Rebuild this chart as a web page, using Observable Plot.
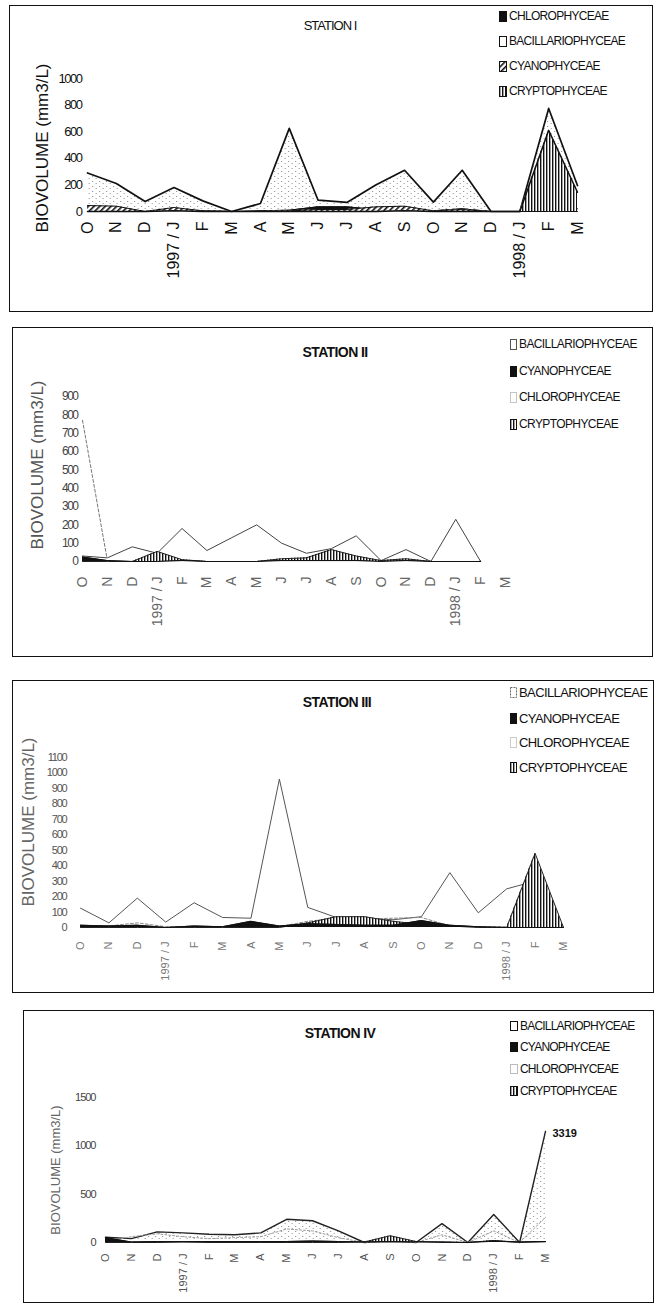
<!DOCTYPE html>
<html><head><meta charset="utf-8">
<script src="https://cdn.jsdelivr.net/npm/d3@7"></script>
<script src="https://cdn.jsdelivr.net/npm/@observablehq/plot@0.6"></script>
<style>
body{margin:0;background:#fff;font-family:"Liberation Sans",Arial,sans-serif;}
#page{position:relative;width:656px;height:1306px;overflow:hidden;background:#fff;}
.box{position:absolute;border:1.5px solid #111;box-sizing:border-box;}
.t{position:absolute;white-space:nowrap;color:#111;line-height:1;}
.rot{position:absolute;white-space:nowrap;line-height:1;transform:translate(-50%,-50%) rotate(-90deg);}
.chart{position:absolute;left:0;}
.lg{position:absolute;white-space:nowrap;line-height:1;display:flex;align-items:center;}
.lg svg{margin-right:2px;}
</style></head><body><div id="page">
<svg width="0" height="0" style="position:absolute">
<defs>
<pattern id="vh" width="3" height="4" patternUnits="userSpaceOnUse"><rect width="3" height="4" fill="#fff"/><rect width="1.4" height="4" fill="#111"/></pattern>
<pattern id="dh" width="4" height="4" patternUnits="userSpaceOnUse" patternTransform="rotate(45)"><rect width="4" height="4" fill="#fff"/><rect width="1.6" height="4" fill="#111"/></pattern>
<pattern id="dots" width="7" height="5" patternUnits="userSpaceOnUse"><rect width="7" height="5" fill="#fff"/><rect x="1" y="1" width="1.2" height="1" fill="#9a9a9a"/><rect x="4.5" y="3" width="1.5" height="1" fill="#b5b5b5"/></pattern>
</defs></svg>
</div>
<script>
// ---------- data ----------
const months = ["O","N","D","1997 / J","F","M","A","M","J","J","A","S","O","N","D","1998 / J","F","M"];
const titles = ["STATION I","STATION II","STATION III","STATION IV"];
const yLabel = "BIOVOLUME (mm3/L)";
const legend1 = ["CHLOROPHYCEAE","BACILLARIOPHYCEAE","CYANOPHYCEAE","CRYPTOPHYCEAE"];
const legend234 = ["BACILLARIOPHYCEAE","CYANOPHYCEAE","CHLOROPHYCEAE","CRYPTOPHYCEAE"];

// Station I
const st1Bacillario = [290,210,75,180,80,0,60,625,85,68,200,310,70,310,0,0,775,195];
const st1Chloro     = [10,15,0,10,5,0,5,10,35,35,15,15,5,20,0,0,30,20];
const st1Cyano      = [45,40,0,30,5,0,0,5,15,15,35,40,5,15,0,0,0,0];
const st1Crypto     = [0,0,0,5,0,0,0,0,0,0,0,5,0,0,0,0,610,145];
const yTicks1 = [0,200,400,600,800,1000];

// Station II
const st2Bacillario = [30,20,80,45,180,60,130,200,100,45,70,140,5,65,0,230,0,null];
const st2Chloro     = [770,5,5,10,25,5,5,5,10,10,15,10,5,10,5,10,5,null];
const st2Cyano      = [25,5,0,0,5,0,0,0,5,5,5,5,0,5,0,0,0,null];
const st2Crypto     = [0,0,0,55,10,0,0,0,15,20,65,30,5,15,0,0,0,null];
const yTicks2 = [0,100,200,300,400,500,600,700,800,900];

// Station III
const st3Bacillario = [125,30,190,35,160,65,60,960,130,65,60,50,70,355,95,250,300,0];
const st3Chloro     = [10,10,30,5,5,5,10,5,40,60,55,60,65,10,5,5,0,0];
const st3Cyano      = [15,10,15,0,10,5,40,10,25,20,15,15,45,15,5,0,0,0];
const st3Crypto     = [0,0,0,0,0,0,0,0,30,70,70,40,20,10,0,0,480,0];
const yTicks3 = [0,100,200,300,400,500,600,700,800,900,1000,1100];

// Station IV (March 1998 value 3319 is drawn cut off on the figure)
const st4Bacillario = [55,40,110,100,85,80,100,240,225,120,0,20,0,195,0,290,0,1150];
const st4Chloro     = [10,60,90,60,40,50,60,140,120,50,0,10,0,80,0,120,0,260];
const st4Cyano      = [50,5,10,10,10,10,10,10,15,10,5,10,5,5,0,15,5,10];
const st4Crypto     = [0,0,0,5,0,0,0,0,0,0,5,70,10,0,0,20,0,10];
const yTicks4 = [0,500,1000,1500];
const st4PeakLabel = "3319";
const st4PeakIndex = 17;

// ---------- styles / layout ----------
const S = {
  p1: {
    BACILLARIOPHYCEAE:{fill:"url(#dots)",stroke:"#111",sw:1.7},
    CHLOROPHYCEAE:{fill:"#111",stroke:"#111",sw:1},
    CYANOPHYCEAE:{fill:"url(#dh)",stroke:"#111",sw:1},
    CRYPTOPHYCEAE:{fill:"url(#vh)",stroke:"#111",sw:1.5}
  },
  p2: {
    CHLOROPHYCEAE:{fill:"none",stroke:"#777",sw:1,dash:"3,2"},
    BACILLARIOPHYCEAE:{fill:"#fff",stroke:"#444",sw:1},
    CRYPTOPHYCEAE:{fill:"url(#vh)",stroke:"#222",sw:1},
    CYANOPHYCEAE:{fill:"#111",stroke:"#111",sw:1}
  },
  p3: {
    BACILLARIOPHYCEAE:{fill:"#fff",stroke:"#555",sw:1},
    CHLOROPHYCEAE:{fill:"none",stroke:"#888",sw:1,dash:"3,2"},
    CRYPTOPHYCEAE:{fill:"url(#vh)",stroke:"#222",sw:1},
    CYANOPHYCEAE:{fill:"#111",stroke:"#111",sw:1}
  },
  p4: {
    BACILLARIOPHYCEAE:{fill:"url(#dots)",stroke:"#222",sw:1.4},
    CHLOROPHYCEAE:{fill:"none",stroke:"#999",sw:1,dash:"2,2"},
    CRYPTOPHYCEAE:{fill:"url(#vh)",stroke:"#222",sw:1},
    CYANOPHYCEAE:{fill:"#111",stroke:"#111",sw:1.2}
  }
};
const legendSwatch = {
  p1:{CHLOROPHYCEAE:["#111","#111",""],BACILLARIOPHYCEAE:["#fff","#111",""],CYANOPHYCEAE:["url(#dh)","#111",""],CRYPTOPHYCEAE:["url(#vh)","#111",""]},
  p2:{BACILLARIOPHYCEAE:["#fff","#555",""],CYANOPHYCEAE:["#111","#111",""],CHLOROPHYCEAE:["#fff","#888","1,1"],CRYPTOPHYCEAE:["url(#vh)","#111",""]},
  p3:{BACILLARIOPHYCEAE:["#fff","#666","2,1"],CYANOPHYCEAE:["#111","#111",""],CHLOROPHYCEAE:["#fff","#999","1,1"],CRYPTOPHYCEAE:["url(#vh)","#111",""]},
  p4:{BACILLARIOPHYCEAE:["#fff","#111",""],CYANOPHYCEAE:["#111","#111",""],CHLOROPHYCEAE:["#fff","#777","1,1"],CRYPTOPHYCEAE:["url(#vh)","#111",""]}
};

const panels = [
  {key:"p1", box:[9,5,644,307], top:5, h:307, m:[73,79,101,87], ymax:1000, yt:yTicks1,
   series:[["BACILLARIOPHYCEAE",st1Bacillario],["CHLOROPHYCEAE",st1Chloro],["CYANOPHYCEAE",st1Cyano],["CRYPTOPHYCEAE",st1Crypto]],
   xFont:16, xPad:10, xColor:"#111", yFont:13, yPad:6, ySpacing:-1.5, yColor:"#111",
   title:{x:330,y:25,size:13,weight:"normal",ls:-1}, ylab:{x:42,y:148,size:17,color:"#111"},
   legend:legend1, lg:{x:499,y:[17,42,67,92],size:12,ls:-0.7,sw:[7,10]}},
  {key:"p2", box:[12,327,641,330], top:327, h:330, m:[69,151,96,82], ymax:900, yt:yTicks2,
   series:[["CHLOROPHYCEAE",st2Chloro],["BACILLARIOPHYCEAE",st2Bacillario],["CRYPTOPHYCEAE",st2Crypto],["CYANOPHYCEAE",st2Cyano]],
   xFont:14, xPad:15, xColor:"#666", yFont:12, yPad:5, ySpacing:-1.5, yColor:"#444",
   title:{x:335,y:352,size:14,weight:"bold",ls:-0.6}, ylab:{x:37,y:465,size:17,color:"#555"},
   legend:legend234, lg:{x:510,y:[345,372,398,425],size:12,ls:-0.6,sw:[6,10]}},
  {key:"p3", box:[12,680,642,313], top:680, h:313, m:[77,93,66,80], ymax:1100, yt:yTicks3,
   series:[["BACILLARIOPHYCEAE",st3Bacillario],["CHLOROPHYCEAE",st3Chloro],["CRYPTOPHYCEAE",st3Crypto],["CYANOPHYCEAE",st3Cyano]],
   xFont:11, xPad:14, xColor:"#777", yFont:11, yPad:14, ySpacing:-1.2, yColor:"#555",
   title:{x:337,y:702,size:14,weight:"bold",ls:-0.6}, ylab:{x:28,y:822,size:17,color:"#666"},
   legend:legend234, lg:{x:510,y:[693,719,743,768],size:13,ls:-0.6,sw:[6,10]}},
  {key:"p4", box:[23,1010,631,293], top:1010, h:293, m:[87,111,61,105], ymax:1500, yt:yTicks4,
   series:[["BACILLARIOPHYCEAE",st4Bacillario],["CHLOROPHYCEAE",st4Chloro],["CRYPTOPHYCEAE",st4Crypto],["CYANOPHYCEAE",st4Cyano]],
   xFont:11, xPad:11, xColor:"#555", yFont:11, yPad:10, ySpacing:-1, yColor:"#444",
   title:{x:340,y:1033,size:14,weight:"bold",ls:-0.6}, ylab:{x:55,y:1170,size:13,color:"#666"},
   legend:legend234, lg:{x:510,y:[1027,1048,1070,1092],size:12,ls:-0.8,sw:[7,9]}}
];

const page = document.getElementById("page");
function el(tag, cls, css, text){const e=document.createElement(tag); if(cls) e.className=cls; Object.assign(e.style,css||{}); if(text!=null) e.textContent=text; page.appendChild(e); return e;}

panels.forEach((p, pi) => {
  const [bx,by,bw,bh] = p.box;
  el("div","box",{left:bx+"px",top:by+"px",width:bw+"px",height:bh+"px"});
  const [mt,mr,mb,ml] = p.m;
  const marks = [];
  p.series.forEach(([name, vals]) => {
    const st = S[p.key][name];
    const data = vals.map((v,i)=>({i,v})).filter(d=>d.v!=null);
    if (st.fill !== "none") marks.push(Plot.areaY(data,{x:"i",y1:0,y2:"v",fill:st.fill,curve:"linear"}));
    marks.push(Plot.lineY(data,{x:"i",y:"v",stroke:st.stroke,strokeWidth:st.sw,strokeDasharray:st.dash||null,curve:"linear"}));
  });
  marks.push(Plot.axisX(d3.range(months.length),{tickFormat:i=>months[i],tickRotate:-90,tickSize:0,tickPadding:p.xPad,fontSize:p.xFont,fill:p.xColor,label:null}));
  marks.push(Plot.axisY(p.yt,{tickFormat:d=>String(d),tickSize:0,tickPadding:p.yPad,fontSize:p.yFont,fill:p.yColor,label:null}));
  if (p.key==="p4") {
    marks.push(Plot.text([st4PeakIndex],{x:d=>d,y:d=>st4Bacillario[d],text:()=>st4PeakLabel,dx:7,dy:2,textAnchor:"start",fontSize:11,fontWeight:"bold",fill:"#111"}));
  }
  const svg = Plot.plot({
    width:656, height:p.h, marginTop:mt, marginRight:mr, marginBottom:mb, marginLeft:ml,
    x:{domain:[0,17],axis:null}, y:{domain:[0,p.ymax],axis:null},
    style:{fontFamily:'"Liberation Sans",Arial,sans-serif',background:"transparent",overflow:"visible"},
    marks
  });
  svg.classList.add("chart");
  svg.style.top = p.top+"px";
  svg.querySelectorAll('g[aria-label="y-axis tick label"] text').forEach(t=>t.setAttribute("letter-spacing",p.ySpacing));
  page.appendChild(svg);

  el("div","t",{fontSize:p.title.size+"px",fontWeight:p.title.weight,letterSpacing:p.title.ls+"px",top:(p.title.y-p.title.size/2)+"px",left:p.title.x+"px",transform:"translateX(-50%)"},titles[pi]);
  el("div","rot",{left:p.ylab.x+"px",top:p.ylab.y+"px",fontSize:p.ylab.size+"px",color:p.ylab.color},yLabel);
  p.legend.forEach((name,k)=>{
    const [f,s,da] = legendSwatch[p.key][name];
    const row = el("div","lg",{left:p.lg.x+"px",top:(p.lg.y[k]-p.lg.size/2-1)+"px",fontSize:p.lg.size+"px",letterSpacing:p.lg.ls+"px",color:"#111"});
    const [w,h] = p.lg.sw;
    row.innerHTML = `<svg width="${w+1}" height="${h+1}"><rect x="0.5" y="0.5" width="${w}" height="${h}" fill="${f}" stroke="${s}" stroke-width="1" ${da?`stroke-dasharray="${da}"`:""}/></svg><span>${name}</span>`;
  });
});
</script>
</body></html>
